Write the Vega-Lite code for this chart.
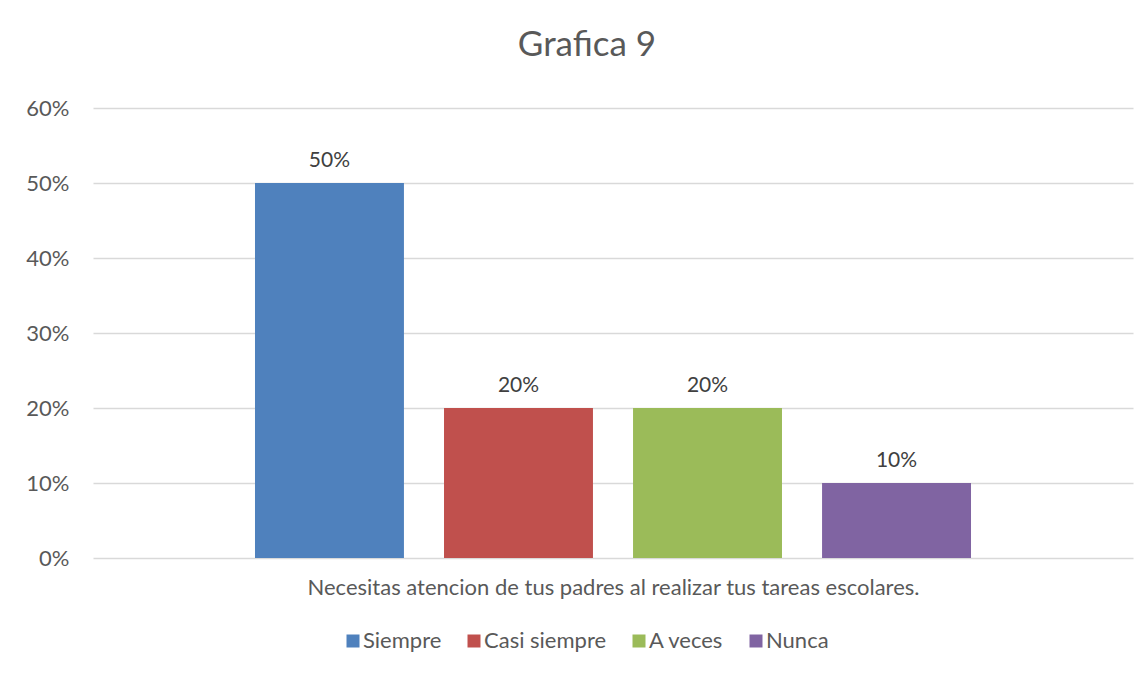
{
  "$schema": "https://vega.github.io/schema/vega-lite/v6.json",
  "width": 1040,
  "height": 450,
  "autosize": "none",
  "padding": {"left": 93, "top": 108, "right": 14, "bottom": 116},
  "background": "white",
  "config": {
    "font": "Lato",
    "view": {"stroke": null}
  },
  "title": {
    "text": "Grafica 9",
    "fontSize": 35,
    "font": "Lato",
    "fontWeight": "normal",
    "color": "#595959",
    "anchor": "middle",
    "dx": -26,
    "offset": 34
  },
  "data": {
    "values": [
      {"respuesta": "Siempre", "valor": 0.5},
      {"respuesta": "Casi siempre", "valor": 0.2},
      {"respuesta": "A veces", "valor": 0.2},
      {"respuesta": "Nunca", "valor": 0.1}
    ]
  },
  "encoding": {
    "x": {
      "field": "respuesta",
      "type": "nominal",
      "sort": null,
      "scale": {"paddingInner": 0.212, "paddingOuter": 0.857},
      "axis": {
        "title": "Necesitas atencion de tus padres al realizar tus tareas escolares.",
        "titleFont": "Lato",
        "titleFontSize": 22,
        "titleFontWeight": "normal",
        "titleColor": "#595959",
        "titlePadding": 19,
        "labels": false,
        "ticks": false,
        "domain": false
      }
    },
    "y": {
      "field": "valor",
      "type": "quantitative",
      "scale": {"domain": [0, 0.6]},
      "axis": {
        "title": null,
        "format": ".0%",
        "values": [0, 0.1, 0.2, 0.3, 0.4, 0.5, 0.6],
        "labelFontSize": 22,
        "labelFont": "Lato",
        "labelColor": "#595959",
        "labelPadding": 24,
        "ticks": false,
        "domain": false,
        "grid": true,
        "gridColor": "#d9d9d9",
        "gridWidth": 1.5
      }
    }
  },
  "layer": [
    {
      "mark": {"type": "bar"},
      "encoding": {
        "color": {
          "field": "respuesta",
          "type": "nominal",
          "scale": {
            "domain": ["Siempre", "Casi siempre", "A veces", "Nunca"],
            "range": ["#4F81BD", "#C0504D", "#9BBB59", "#8064A2"]
          },
          "legend": {
            "title": null,
            "orient": "none",
            "direction": "horizontal",
            "legendX": 249,
            "legendY": 522,
            "padding": 0,
            "symbolType": "square",
            "symbolSize": 169,
            "symbolStrokeWidth": 0,
            "labelFontSize": 22,
            "labelFont": "Lato",
            "labelColor": "#595959",
            "labelOffset": -1,
            "columnPadding": 21
          }
        }
      }
    },
    {
      "mark": {
        "type": "text",
        "baseline": "bottom",
        "dy": -12,
        "fontSize": 21,
        "font": "Lato",
        "color": "#404040"
      },
      "encoding": {
        "text": {"field": "valor", "type": "quantitative", "format": ".0%"}
      }
    }
  ]
}
